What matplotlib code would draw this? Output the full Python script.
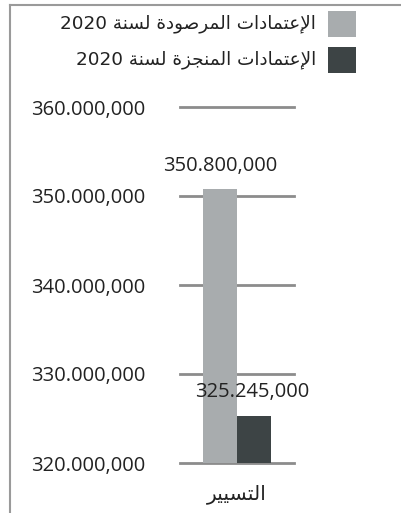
import matplotlib
matplotlib.use("Agg")
import matplotlib.pyplot as plt
from matplotlib.patches import Rectangle
from matplotlib.lines import Line2D

# ---- data ----
categories = ["التسيير"]
series_names = ["الإعتمادات المرصودة لسنة 2020", "الإعتمادات المنجزة لسنة 2020"]
planned = [350800000]
achieved = [325245000]
value_labels_planned = ["350.800,000"]
value_labels_achieved = ["325.245,000"]
y_ticks = [320000000, 330000000, 340000000, 350000000, 360000000]
y_tick_labels = ["320.000,000", "330.000,000", "340.000,000", "350.000,000", "360.000,000"]

# ---- simple Arabic shaping (presentation forms) ----
FORMS = {
    'ا': ('\uFE8D', '\uFE8E', None, None),
    'إ': ('\uFE87', '\uFE88', None, None),
    'أ': ('\uFE83', '\uFE84', None, None),
    'ت': ('\uFE95', '\uFE96', '\uFE97', '\uFE98'),
    'ة': ('\uFE93', '\uFE94', None, None),
    'ج': ('\uFE9D', '\uFE9E', '\uFE9F', '\uFEA0'),
    'د': ('\uFEA9', '\uFEAA', None, None),
    'ر': ('\uFEAD', '\uFEAE', None, None),
    'ز': ('\uFEAF', '\uFEB0', None, None),
    'س': ('\uFEB1', '\uFEB2', '\uFEB3', '\uFEB4'),
    'ص': ('\uFEB9', '\uFEBA', '\uFEBB', '\uFEBC'),
    'ع': ('\uFEC9', '\uFECA', '\uFECB', '\uFECC'),
    'ل': ('\uFEDD', '\uFEDE', '\uFEDF', '\uFEE0'),
    'م': ('\uFEE1', '\uFEE2', '\uFEE3', '\uFEE4'),
    'ن': ('\uFEE5', '\uFEE6', '\uFEE7', '\uFEE8'),
    'و': ('\uFEED', '\uFEEE', None, None),
    'ي': ('\uFEF1', '\uFEF2', '\uFEF3', '\uFEF4'),
}
LAMALEF = {'ا': ('\uFEFB', '\uFEFC'), 'إ': ('\uFEF9', '\uFEFA'),
           'أ': ('\uFEF7', '\uFEF8'), 'آ': ('\uFEF5', '\uFEF6')}


def shape_word(w):
    out = []
    i = 0
    prev_joins = False
    while i < len(w):
        c = w[i]
        if c not in FORMS:
            out.append(c)
            prev_joins = False
            i += 1
            continue
        if c == 'ل' and i + 1 < len(w) and w[i + 1] in LAMALEF:
            iso, fin = LAMALEF[w[i + 1]]
            out.append(fin if prev_joins else iso)
            prev_joins = False
            i += 2
            continue
        iso, fin, ini, med = FORMS[c]
        next_ar = i + 1 < len(w) and w[i + 1] in FORMS
        can_next = ini is not None and next_ar
        if prev_joins and can_next:
            g = med
        elif prev_joins:
            g = fin
        elif can_next:
            g = ini
        else:
            g = iso
        out.append(g)
        prev_joins = ini is not None
        i += 1
    return ''.join(out)


def ar(text):
    words = text.split(' ')
    vis = []
    for w in words:
        if any(ch in FORMS for ch in w):
            vis.append(shape_word(w)[::-1])
        else:
            vis.append(w)
    return ' '.join(vis[::-1])


W, H = 401, 513
fig = plt.figure(figsize=(W / 100, H / 100), dpi=100)
fig.patch.set_facecolor("white")

def fx(x):
    return x / W

def fy(y):
    return 1 - y / H

ax = fig.add_axes([fx(180), fy(463), fx(294) - fx(180), fy(107) - fy(463)])
ax.set_facecolor("none")
ax.set_ylim(320000000, 360000000)
ax.set_xlim(-0.84, 0.84)

colors = ["#a8acae", "#3d4445"]
bw = 0.5
x0 = 0
ax.bar([x0 - bw / 2], [p - 320000000 for p in planned], bottom=320000000,
       width=bw, color=colors[0], zorder=3)
ax.bar([x0 + bw / 2], [a - 320000000 for a in achieved], bottom=320000000,
       width=bw, color=colors[1], zorder=3)

for v in y_ticks:
    ax.axhline(v, color="#8c8c8c", lw=2.0, zorder=2, clip_on=False)

ax.set_yticks(y_ticks)
ax.set_yticklabels(y_tick_labels, fontfamily="Open Sans", fontsize=14.5, color="#222222")
ax.tick_params(axis="y", length=0, pad=25)
ax.set_xticks([x0])
ax.set_xticklabels([ar(c) for c in categories], fontfamily="DejaVu Sans", fontsize=14.5, color="#222222")
ax.tick_params(axis="x", length=0, pad=15)
for s in ax.spines.values():
    s.set_visible(False)

ax.text(x0 - bw / 2, planned[0] + 2600000, value_labels_planned[0], ha="center", va="center",
        fontfamily="Open Sans", fontsize=14.5, color="#222222", zorder=4)
ax.text(x0 + bw / 2 - 0.02, achieved[0] + 2700000, value_labels_achieved[0], ha="center", va="center",
        fontfamily="Open Sans", fontsize=14.5, color="#222222", zorder=4)

# legend drawn manually
leg_y = [24, 60]
for name, col, yy in zip(series_names, colors, leg_y):
    fig.patches.append(Rectangle((fx(328), fy(yy + 12.5)), fx(356) - fx(328), fy(yy - 12.5) - fy(yy + 12.5),
                                 transform=fig.transFigure, facecolor=col, edgecolor="none"))
    fig.text(fx(316), fy(yy), ar(name), ha="right", va="center",
             fontfamily="DejaVu Sans", fontsize=13.2, color="#222222")

# frame lines (top and left)
fig.lines.append(Line2D([fx(10), fx(401)], [fy(5), fy(5)], transform=fig.transFigure, color="#9a9a9a", lw=1.5))
fig.lines.append(Line2D([fx(10), fx(10)], [fy(5), fy(513)], transform=fig.transFigure, color="#9a9a9a", lw=1.5))

fig.savefig("out.png", dpi=100)
